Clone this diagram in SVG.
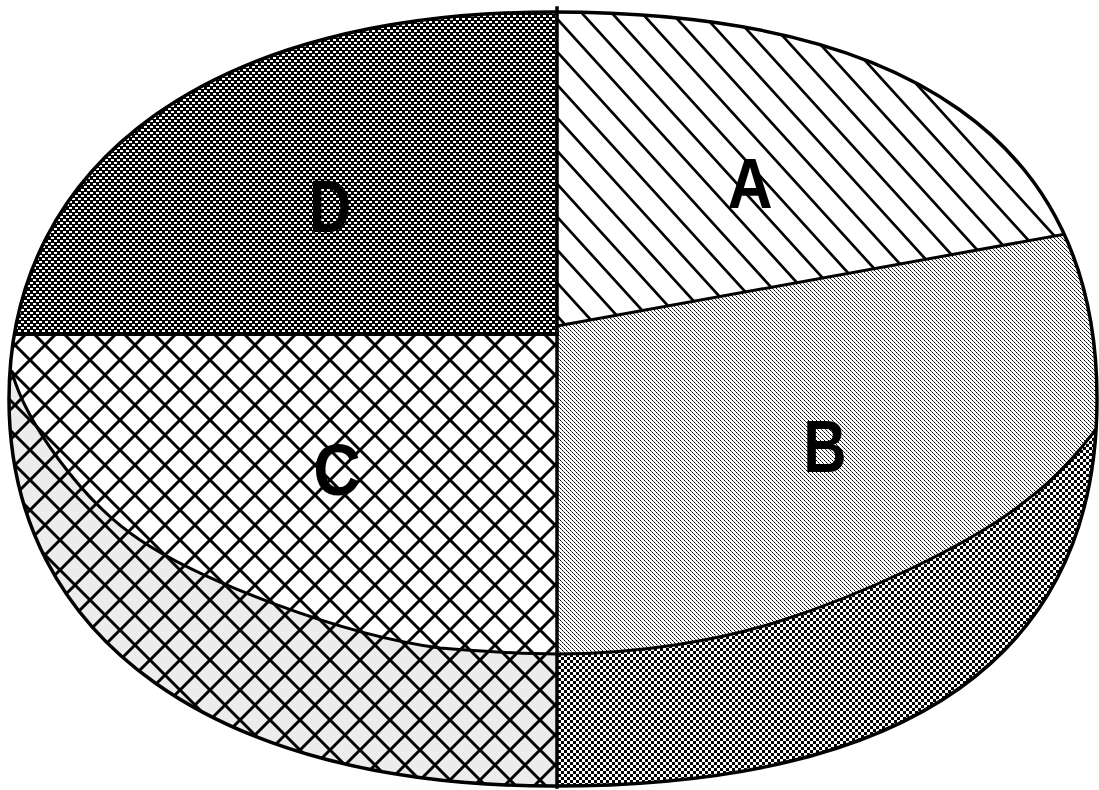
<svg xmlns="http://www.w3.org/2000/svg" width="1099" height="790" viewBox="0 0 1099 790">
<style>
.ln{fill:none;stroke:#000;stroke-linecap:square;stroke-linejoin:round}
.lbl{font-family:"Liberation Sans",Arial,sans-serif;font-weight:bold;fill:#000;text-anchor:middle}
</style>
<defs>
<pattern id="patD" width="6" height="6" patternUnits="userSpaceOnUse">
<rect width="6" height="6" fill="#000"/>
<rect x="0" y="0" width="3" height="2" fill="#fff"/>
<rect x="3" y="3" width="3" height="2" fill="#fff"/>
</pattern>
<pattern id="patDark" width="6" height="6" patternUnits="userSpaceOnUse">
<rect width="6" height="6" fill="#fff"/>
<rect x="0" y="0" width="3" height="3" fill="#000"/>
<rect x="3" y="3" width="3" height="3" fill="#000"/>
</pattern>
<pattern id="patB" width="4" height="4" patternUnits="userSpaceOnUse">
<rect width="4" height="4" fill="#fff"/>
<rect x="0" y="0" width="1" height="1" fill="#000"/>
<rect x="2" y="2" width="1" height="1" fill="#000"/>
<rect x="1" y="1" width="1" height="1" fill="#555"/>
<rect x="3" y="3" width="1" height="1" fill="#555"/>
</pattern>
<pattern id="patX" width="30" height="30" patternUnits="userSpaceOnUse">
<path d="M-3,-3 L33,33 M33,-3 L-3,33" stroke="#000" stroke-width="3" fill="none"/>
</pattern>
<pattern id="patH" width="30" height="33" patternUnits="userSpaceOnUse">
<path d="M-5,-5.5 L35,38.5 M25,-5.5 L35,5.5 M-5,27.5 L5,38.5" stroke="#000" stroke-width="2.7" fill="none"/>
</pattern>
<path id="outer" d="M1097,399 C1097,654.4 912,786 553,786 C215.7,786 9,639 9,399 C9,159 215.7,12 553,12 C912,12 1097,143.6 1097,399 Z"/>
<clipPath id="clipOuter"><use href="#outer"/></clipPath>
</defs>
<rect width="1099" height="790" fill="#fff"/>
<g clip-path="url(#clipOuter)">
<g id="regionD"><rect x="0" y="0" width="557" height="334" fill="url(#patD)"/></g>
<g id="regionC">
<rect x="0" y="334" width="557" height="456" fill="#fff"/>
<path d="M0,372 L12,372 C25,420 80,500 140,540 C200,580 340,635 440,648 C490,652 530,654 557,654 L557,790 L0,790 Z" fill="#ececec"/>
<rect x="0" y="334" width="557" height="456" fill="url(#patX)"/>
</g>
<g id="regionLower"><rect x="557" y="0" width="542" height="790" fill="url(#patDark)"/></g>
<g id="regionB"><path d="M557,654 C640,654 720,640 777,622 C860,596 970,545 1023,503 C1060,476 1085,445 1110,410 L1110,226 L557,326 Z" fill="url(#patB)"/></g>
<g id="regionA">
<path d="M557,0 L1110,0 L1110,226 L557,326 Z" fill="#fff"/>
<path d="M557,0 L1110,0 L1110,226 L557,326 Z" fill="url(#patH)"/>
</g>
<g id="connectors">
<path class="ln" stroke-width="3" d="M12,372 C25,420 80,500 140,540 C200,580 340,635 440,648 C490,652 530,654 557,654 C640,654 720,640 777,622 C860,596 970,545 1023,503 C1060,476 1085,445 1110,410"/>
<path class="ln" stroke-width="3" d="M557,326 L1110,226"/>
<path class="ln" stroke-width="4" d="M0,334 L557,334"/>
</g>
</g>
<g id="dividers">
<path class="ln" stroke-width="3.5" d="M557,8 L557,787"/>
<use href="#outer" class="ln" stroke-width="3.5"/>
</g>
<g id="labelA"><text class="lbl" font-size="71" transform="translate(750,208) scale(0.88,1)">A</text></g>
<g id="labelB"><text class="lbl" font-size="75" transform="translate(825,472) scale(0.8,1)">B</text></g>
<g id="labelC"><text class="lbl" font-size="73" transform="translate(337,495) scale(0.9,1)">C</text></g>
<g id="labelD"><text class="lbl" font-size="75" transform="translate(330,232) scale(0.78,1)">D</text></g>
</svg>
